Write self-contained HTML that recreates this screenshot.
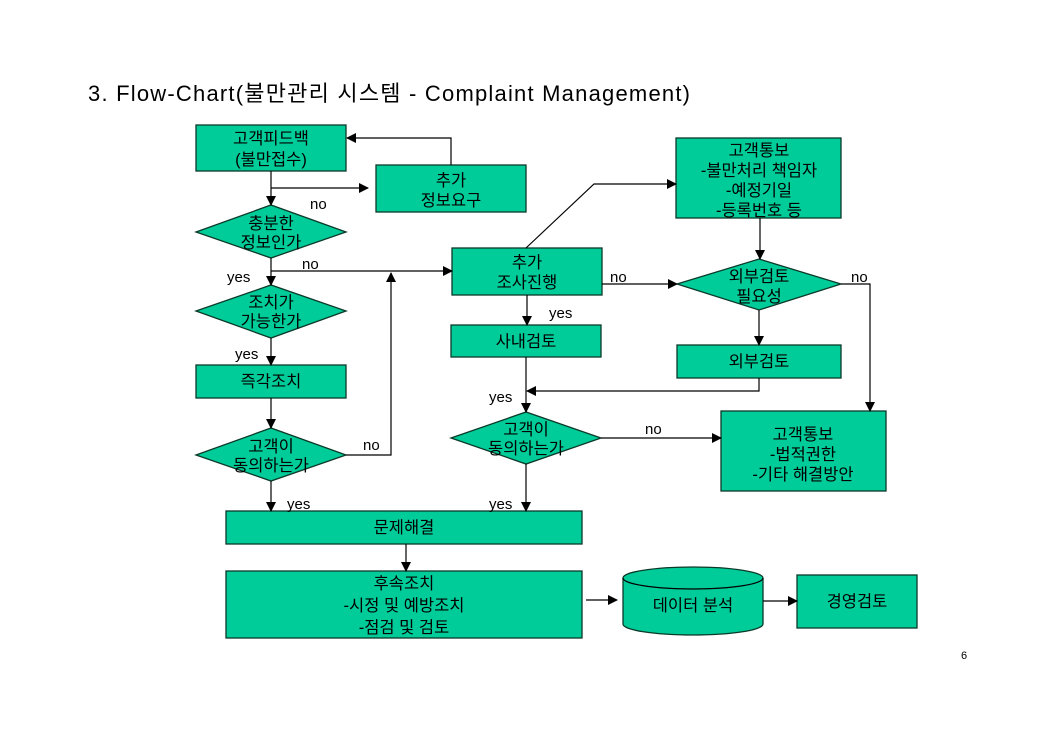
<!DOCTYPE html>
<html><head><meta charset="utf-8"><style>
body{margin:0;background:#fff;}
svg{display:block;font-family:"Liberation Sans","Noto Sans CJK KR",sans-serif;}
.b{fill:#00CC99;stroke:#0a3a28;stroke-width:1.3;}
.l{stroke:#000;stroke-width:1.2;fill:none;}
.t{font-size:16.5px;text-anchor:middle;fill:#000;}
.s{font-size:15px;fill:#000;}
</style></head><body>
<svg width="1053" height="740" viewBox="0 0 1053 740">
<defs><marker id="a" markerWidth="10" markerHeight="10" refX="9" refY="5" orient="auto" markerUnits="userSpaceOnUse"><path d="M0,0 L10,5 L0,10 z" fill="#000"/></marker></defs>
<text x="88" y="101" font-size="22" fill="#000" textLength="602" lengthAdjust="spacing">3. Flow-Chart(불만관리 시스템 - Complaint Management)</text>

<!-- shapes -->
<rect class="b" x="196" y="125" width="150" height="46"/>
<text class="t" x="271" y="144">고객피드백</text><text class="t" x="271" y="165">(불만접수)</text>
<rect class="b" x="376" y="165" width="150" height="47"/>
<text class="t" x="451" y="186">추가</text><text class="t" x="451" y="206">정보요구</text>
<polygon class="b" points="196,232 271,205 346,232 271,258"/>
<text class="t" x="271" y="229">충분한</text><text class="t" x="271" y="248">정보인가</text>
<polygon class="b" points="196,311 271,285 346,311 271,338"/>
<text class="t" x="271" y="308">조치가</text><text class="t" x="271" y="327">가능한가</text>
<rect class="b" x="196" y="365" width="150" height="33"/>
<text class="t" x="271" y="387">즉각조치</text>
<polygon class="b" points="196,455 271,428 346,455 271,481"/>
<text class="t" x="271" y="452">고객이</text><text class="t" x="271" y="471">동의하는가</text>
<rect class="b" x="452" y="248" width="150" height="47"/>
<text class="t" x="527" y="268">추가</text><text class="t" x="527" y="288">조사진행</text>
<rect class="b" x="451" y="325" width="150" height="32"/>
<text class="t" x="526" y="347">사내검토</text>
<polygon class="b" points="451,438 526,412 601,438 526,464"/>
<text class="t" x="526" y="435">고객이</text><text class="t" x="526" y="454">동의하는가</text>
<rect class="b" x="676" y="138" width="165" height="80"/>
<text class="t" x="759" y="156">고객통보</text><text class="t" x="759" y="176">-불만처리 책임자</text><text class="t" x="759" y="196">-예정기일</text><text class="t" x="759" y="216">-등록번호 등</text>
<polygon class="b" points="677,284 759,259 841,284 759,310"/>
<text class="t" x="759" y="282">외부검토</text><text class="t" x="759" y="302">필요성</text>
<rect class="b" x="677" y="345" width="164" height="33"/>
<text class="t" x="759" y="367">외부검토</text>
<rect class="b" x="721" y="411" width="165" height="80"/>
<text class="t" x="803" y="440">고객통보</text><text class="t" x="803" y="460">-법적권한</text><text class="t" x="803" y="480">-기타 해결방안</text>
<rect class="b" x="226" y="511" width="356" height="33"/>
<text class="t" x="404" y="533">문제해결</text>
<rect class="b" x="226" y="571" width="356" height="67"/>
<text class="t" x="404" y="589">후속조치</text><text class="t" x="404" y="611">-시정 및 예방조치</text><text class="t" x="404" y="633">-점검 및 검토</text>
<path class="b" d="M623,578 A70,11 0 0 1 763,578 L763,624 A70,11 0 0 1 623,624 Z"/>
<path class="l" d="M623,578 A70,11 0 0 0 763,578" stroke="#0a3a28"/>
<text class="t" x="693" y="611">데이터 분석</text>
<rect class="b" x="797" y="575" width="120" height="53"/>
<text class="t" x="857" y="607">경영검토</text>
<text x="961" y="659" font-size="11" fill="#000">6</text>

<!-- connectors -->
<line class="l" x1="271" y1="171" x2="271" y2="205" marker-end="url(#a)"/>
<line class="l" x1="271" y1="188" x2="368" y2="188" stroke="#666" stroke-width="1.6" marker-end="url(#a)"/>
<polyline class="l" points="451,165 451,138 347,138" marker-end="url(#a)"/>
<line class="l" x1="271" y1="258" x2="271" y2="285" marker-end="url(#a)"/>
<line class="l" x1="271" y1="271" x2="452" y2="271" marker-end="url(#a)"/>
<polyline class="l" points="526,248 594,184 676,184" marker-end="url(#a)"/>
<polyline class="l" points="346,455 391,455 391,273" marker-end="url(#a)"/>
<line class="l" x1="271" y1="338" x2="271" y2="365" marker-end="url(#a)"/>
<line class="l" x1="271" y1="398" x2="271" y2="428" marker-end="url(#a)"/>
<line class="l" x1="271" y1="481" x2="271" y2="511" marker-end="url(#a)"/>
<line class="l" x1="527" y1="295" x2="527" y2="325" marker-end="url(#a)"/>
<line class="l" x1="602" y1="284" x2="677" y2="284" marker-end="url(#a)"/>
<line class="l" x1="526" y1="357" x2="526" y2="412" marker-end="url(#a)"/>
<polyline class="l" points="759,378 759,391 527,391" marker-end="url(#a)"/>
<line class="l" x1="760" y1="218" x2="760" y2="259" marker-end="url(#a)"/>
<line class="l" x1="759" y1="310" x2="759" y2="345" marker-end="url(#a)"/>
<polyline class="l" points="841,284 870,284 870,411" marker-end="url(#a)"/>
<line class="l" x1="601" y1="438" x2="721" y2="438" marker-end="url(#a)"/>
<line class="l" x1="526" y1="464" x2="526" y2="511" marker-end="url(#a)"/>
<line class="l" x1="406" y1="544" x2="406" y2="571" marker-end="url(#a)"/>
<line class="l" x1="586" y1="600" x2="617" y2="600" marker-end="url(#a)"/>
<line class="l" x1="763" y1="601" x2="797" y2="601" marker-end="url(#a)"/>

<!-- labels -->
<text class="s" x="310" y="209">no</text>
<text class="s" x="302" y="269">no</text>
<text class="s" x="227" y="282">yes</text>
<text class="s" x="235" y="359">yes</text>
<text class="s" x="363" y="450">no</text>
<text class="s" x="287" y="509">yes</text>
<text class="s" x="549" y="318">yes</text>
<text class="s" x="610" y="282">no</text>
<text class="s" x="851" y="282">no</text>
<text class="s" x="489" y="402">yes</text>
<text class="s" x="645" y="434">no</text>
<text class="s" x="489" y="509">yes</text>
</svg>
</body></html>
